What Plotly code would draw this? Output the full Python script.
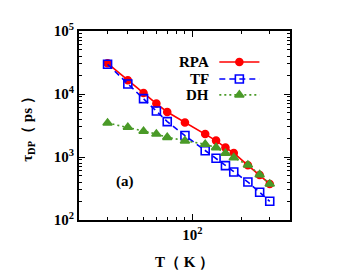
import plotly.graph_objects as go

T = [30, 40, 50, 60, 70, 90, 120, 140, 160, 180, 220, 260, 300]
rpa = [30700, 16500, 10400, 7050, 5180, 3520, 2320, 1820, 1410, 1160, 738, 518, 373]
tf = [29600, 14400, 8450, 5370, 3650, 2190, 1260, 953, 730, 578, 401, 275, 198]
dh = [3470, 2960, 2560, 2320, 2050, 1800, 1590, 1410, 1145, 977, 746, 525, 373]

series_names = ["RPA", "TF", "DH"]
colors = ["#ff0000", "#0000ff", "#4a9a28"]
dashes = ["solid", "6px,4px", "2px,3px"]
symbols = ["circle", "square-open", "triangle-up"]

y_ticks = [100, 1000, 10000, 100000]
y_ticktext = ["<b>10<sup>2</sup></b>", "<b>10<sup>3</sup></b>", "<b>10<sup>4</sup></b>", "<b>10<sup>5</sup></b>"]
x_ticks = [100]
x_ticktext = ["<b>10<sup>2</sup></b>"]
x_minor = [30, 40, 50, 60, 70, 80, 90, 200, 300]
y_minor = [m * d for d in (100, 1000, 10000) for m in range(2, 10)]

font = "Liberation Serif"
fig = go.Figure()
for name, ys, c, d, s in zip(series_names, [rpa, tf, dh], colors, dashes, symbols):
    fig.add_trace(go.Scatter(
        x=T, y=ys, mode="lines+markers", name=name,
        line=dict(color=c, width=1.6, dash=d),
        marker=dict(symbol=s, size=8 if s != "circle" else 7, color=c,
                    line=dict(color=c, width=1.6)),
        showlegend=False))

# manual legend (text left, sample right) on an overlay axis
leg_y = [0.836, 0.746, 0.662]
for i, (name, c, d, s) in enumerate(zip(series_names, colors, dashes, symbols)):
    fig.add_trace(go.Scatter(
        x=[0.665, 0.855], y=[leg_y[i], leg_y[i]], xaxis="x2", yaxis="y2",
        mode="lines", line=dict(color=c, width=1.6, dash=d),
        showlegend=False, hoverinfo="skip"))
    fig.add_trace(go.Scatter(
        x=[0.76], y=[leg_y[i]], xaxis="x2", yaxis="y2",
        mode="markers",
        marker=dict(symbol=s, size=8 if s != "circle" else 7, color=c,
                    line=dict(color=c, width=1.6)),
        showlegend=False, hoverinfo="skip"))
    fig.add_annotation(x=0.62, y=leg_y[i], xref="x2", yref="y2", text=f"<b>{name}</b>",
                       showarrow=False, xanchor="right", yanchor="middle",
                       borderpad=0,
                       font=dict(family=font, size=15, color="black"))

fig.add_annotation(x=0.218, y=0.206, xref="x2", yref="y2", text="<b>(a)</b>",
                   showarrow=False, xanchor="center", yanchor="middle",
                   font=dict(family=font, size=15, color="black"))

axis_common = dict(showgrid=False, zeroline=False, showline=True, linecolor="black",
                   linewidth=2, mirror="allticks", ticks="inside", ticklen=6,
                   tickwidth=1.2, tickcolor="black",
                   tickfont=dict(family=font, size=15, color="black"))

fig.update_layout(
    width=347, height=273,
    margin=dict(l=71, r=65, t=23, b=61),
    paper_bgcolor="white", plot_bgcolor="white",
    xaxis=dict(type="log", range=[1.30103, 2.60206], tickvals=x_ticks, ticktext=x_ticktext,
               minor=dict(tickvals=x_minor, ticks="inside", ticklen=3, tickcolor="black", tickwidth=1),
               title=dict(text="<b>T（ K ）</b>", font=dict(family=font, size=15, color="black"), standoff=14),
               **axis_common),
    yaxis=dict(type="log", range=[2, 5], tickvals=y_ticks, ticktext=y_ticktext,
               minor=dict(tickvals=y_minor, ticks="inside", ticklen=3, tickcolor="black", tickwidth=1),
               title=dict(text="<b>τ<sub>DP</sub>（ ps ）</b>", font=dict(family=font, size=15, color="black"), standoff=18),
               **axis_common),
    xaxis2=dict(overlaying="x", range=[0, 1], visible=False),
    yaxis2=dict(overlaying="y", range=[0, 1], visible=False),
)

fig.write_html("out.html")
